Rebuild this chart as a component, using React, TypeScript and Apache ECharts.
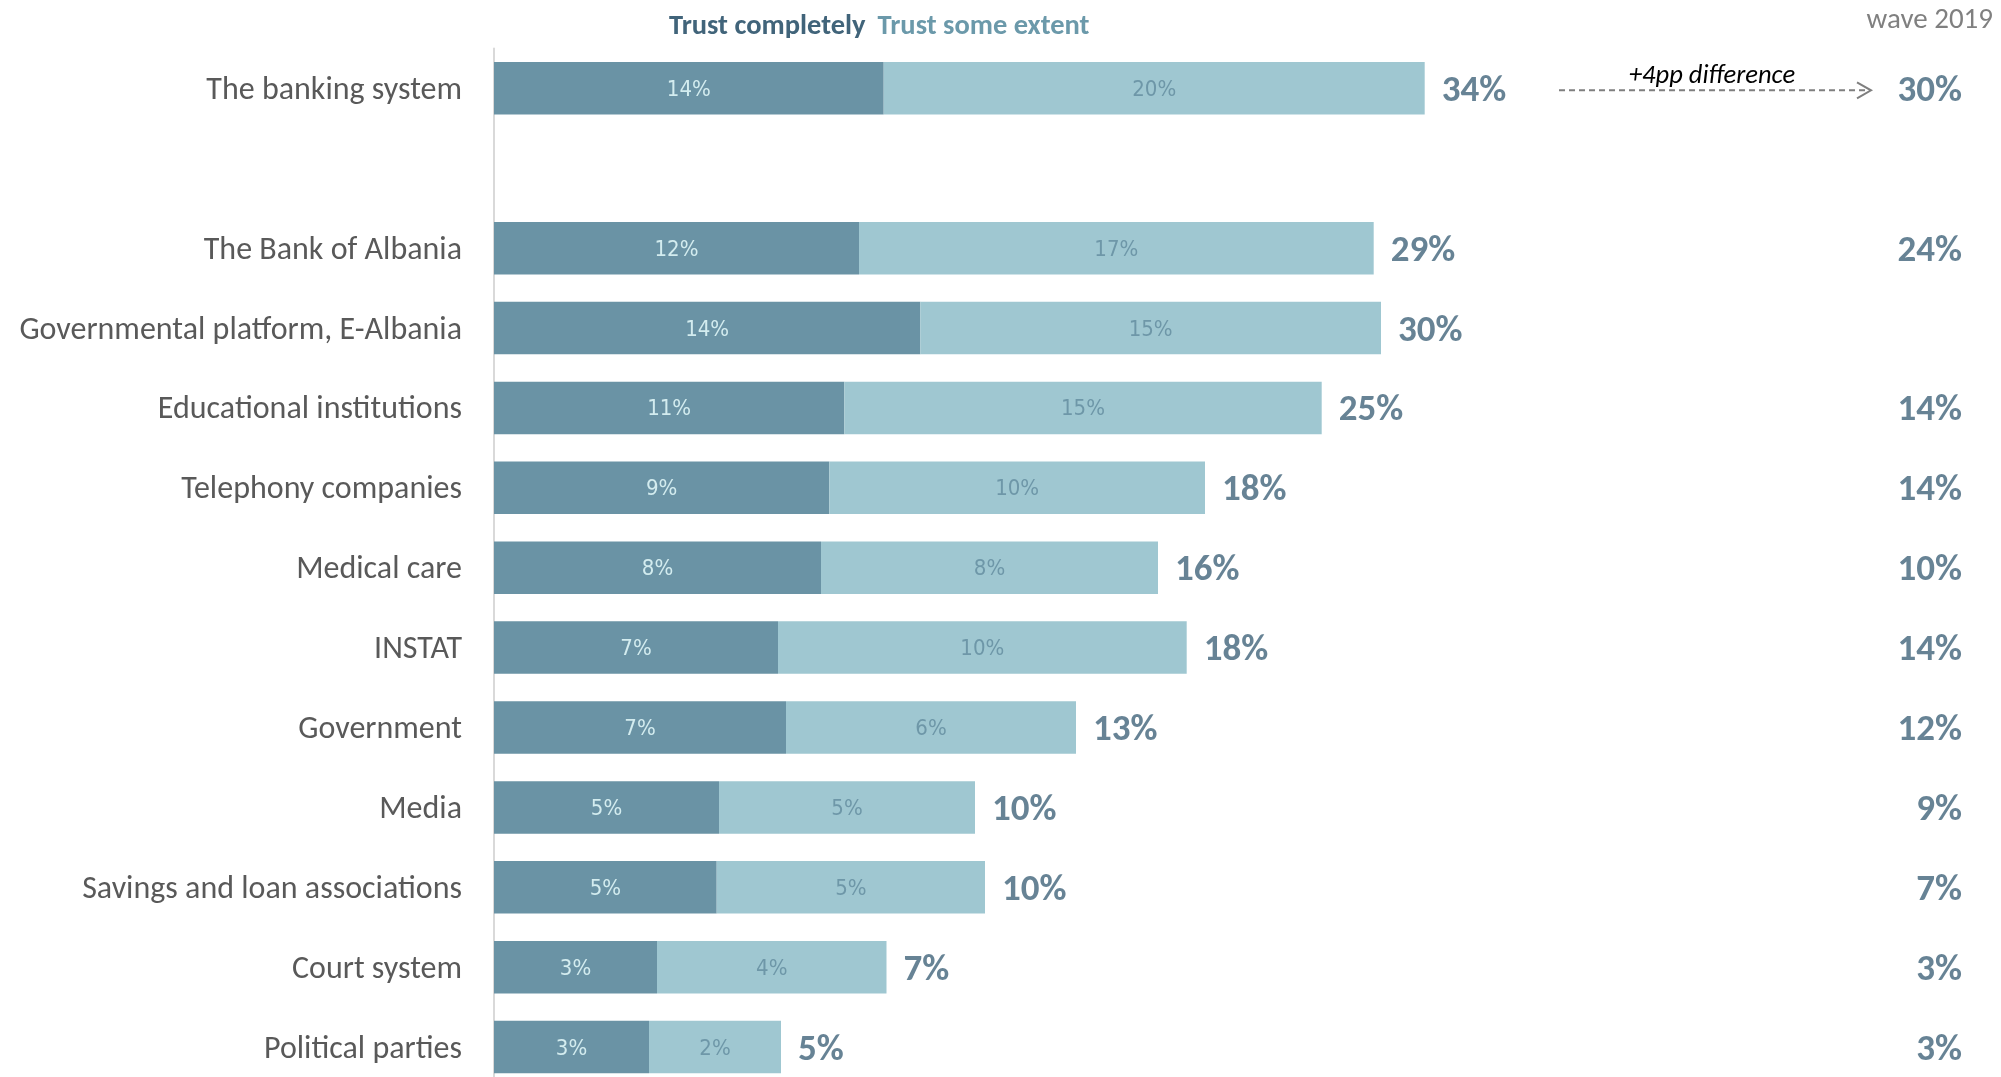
import React, { useEffect, useRef } from "react";
import * as echarts from "echarts";

// ---- data (top to bottom) ----
const categories = [
  "The banking system",
  "",
  "The Bank of Albania",
  "Governmental platform, E-Albania",
  "Educational institutions",
  "Telephony companies",
  "Medical care",
  "INSTAT",
  "Government",
  "Media",
  "Savings and loan associations",
  "Court system",
  "Political parties",
];
const trustCompletelyPct = [14, null, 12, 14, 11, 9, 8, 7, 7, 5, 5, 3, 3];
const trustSomeExtentPct = [20, null, 17, 15, 15, 10, 8, 10, 6, 5, 5, 4, 2];
const totalPct = [34, null, 29, 30, 25, 18, 16, 18, 13, 10, 10, 7, 5];
const wave2019Pct = [30, null, 24, null, 14, 14, 10, 14, 12, 9, 7, 3, 3];

// bar extents as drawn in the reference (plot units)
const completelyBarLength = [389.7, null, 365, 426.3, 350.3, 335.3, 327, 284, 292, 225, 222.7, 163, 155];
const totalBarLength = [930.7, null, 879.7, 887, 827.7, 711, 664, 692.7, 582, 481, 491, 392.5, 287];
const someExtentBarLength = totalBarLength.map((t, i) =>
  t == null || completelyBarLength[i] == null ? null : +(t - (completelyBarLength[i] as number)).toFixed(1)
);

const AXIS_MAX = 1468;
const ARROW_FROM = 1065;
const ARROW_TO = 1377;

const FONT = "Carlito, Lato, 'Open Sans', sans-serif";
const NARROW = "'Liberation Sans Narrow', 'DejaVu Sans Condensed', Lato, sans-serif";
const DARK = "#6a93a5";
const LIGHT = "#9fc7d1";
const TOTAL_COLOR = "#41647a";

export default function App() {
  const ref = useRef<HTMLDivElement>(null);

  useEffect(() => {
    document.body.style.margin = "0";
    document.body.style.overflow = "hidden";
    const chart = echarts.init(ref.current as HTMLDivElement, null, { renderer: "svg" });

    const totalPoints = totalBarLength
      .map((t, i) => (t == null ? null : [t, i, totalPct[i]]))
      .filter((d) => d != null);
    const wavePoints = wave2019Pct
      .map((v, i) => (v == null ? null : [AXIS_MAX, i, v]))
      .filter((d) => d != null);

    chart.setOption({
      animation: false,
      title: {
        text: "wave 2019",
        right: 8,
        top: 3,
        padding: 0,
        textStyle: { fontFamily: FONT, fontSize: 29, fontWeight: "normal", color: "#808080" },
      },
      legend: {
        left: 664,
        top: 10,
        padding: 0,
        itemWidth: 0,
        itemHeight: 0,
        itemGap: 7,
        icon: "none",
        selectedMode: false,
        textStyle: { fontFamily: FONT, fontSize: 28.5, fontWeight: "bold" },
        data: [
          { name: "Trust completely", textStyle: { color: TOTAL_COLOR } },
          { name: "Trust some extent", textStyle: { color: "#6b99aa" } },
        ],
      },
      grid: { left: 494, right: 39, top: 48.4, bottom: 0 },
      xAxis: {
        type: "value",
        min: 0,
        max: AXIS_MAX,
        show: false,
      },
      yAxis: {
        type: "category",
        data: categories,
        inverse: true,
        axisLine: { show: true, lineStyle: { color: "#d9d9d9", width: 2 } },
        axisTick: { show: false },
        splitLine: { show: false },
        axisLabel: { fontFamily: FONT, fontSize: 32, color: "#595959", margin: 32 },
      },
      series: [
        {
          name: "Trust completely",
          type: "bar",
          stack: "trust",
          barWidth: 52.5,
          data: completelyBarLength,
          itemStyle: { color: DARK },
          label: {
            show: true,
            position: "inside",
            fontFamily: NARROW,
            fontSize: 22,
            color: "#d3ecef",
            formatter: (p: any) => (trustCompletelyPct[p.dataIndex] == null ? "" : trustCompletelyPct[p.dataIndex] + "%"),
          },
        },
        {
          name: "Trust some extent",
          type: "bar",
          stack: "trust",
          barWidth: 52.5,
          data: someExtentBarLength,
          itemStyle: { color: LIGHT },
          label: {
            show: true,
            position: "inside",
            fontFamily: NARROW,
            fontSize: 22,
            color: "#6e97a8",
            formatter: (p: any) => (trustSomeExtentPct[p.dataIndex] == null ? "" : trustSomeExtentPct[p.dataIndex] + "%"),
          },
        },
        {
          name: "total",
          type: "scatter",
          symbolSize: 0,
          data: totalPoints,
          label: {
            show: true,
            position: "right",
            distance: 17,
            fontFamily: FONT,
            fontSize: 37,
            fontWeight: "bold",
            color: TOTAL_COLOR,
            formatter: (p: any) => p.value[2] + "%",
          },
        },
        {
          name: "wave2019",
          type: "scatter",
          symbolSize: 0,
          data: wavePoints,
          label: {
            show: true,
            position: "left",
            distance: 0,
            fontFamily: FONT,
            fontSize: 37,
            fontWeight: "bold",
            color: TOTAL_COLOR,
            formatter: (p: any) => p.value[2] + "%",
          },
        },
      ],
    });

    const a = chart.convertToPixel({ gridIndex: 0 }, [ARROW_FROM, 0]) as number[];
    const b = chart.convertToPixel({ gridIndex: 0 }, [ARROW_TO, 0]) as number[];
    if (a && b) {
      const y = a[1] + 2;
      chart.setOption({
        graphic: [
          {
            type: "line",
            shape: { x1: a[0], y1: y, x2: b[0] - 1, y2: y },
            style: { stroke: "#7f7f7f", lineWidth: 2, lineDash: [6, 4] },
            silent: true,
          },
          {
            type: "polyline",
            shape: { points: [[b[0] - 14, y - 8], [b[0], y], [b[0] - 14, y + 8]] },
            style: { stroke: "#7f7f7f", lineWidth: 2, fill: "none" },
            silent: true,
          },
          {
            type: "text",
            x: (a[0] + b[0]) / 2 - 3,
            y: y - 16,
            style: {
              text: "+4pp difference",
              fontFamily: FONT,
              fontSize: 26.5,
              fontStyle: "italic",
              fill: "#000000",
              align: "center",
              verticalAlign: "middle",
            },
            silent: true,
          },
        ],
      });
    }

    return () => chart.dispose();
  }, []);

  return (
    <div
      ref={ref}
      style={{ position: "fixed", left: 0, top: 0, width: 2001, height: 1087 }}
    />
  );
}
